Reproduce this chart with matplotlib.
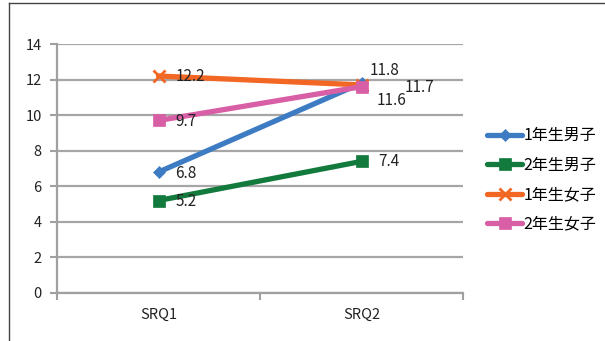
import matplotlib.pyplot as plt
from matplotlib.lines import Line2D

plt.rcParams['font.family'] = ['Noto Sans CJK JP', 'DejaVu Sans']

# Data
categories = ["SRQ1", "SRQ2"]
series_names = ["1年生男子", "2年生男子", "1年生女子", "2年生女子"]
boys_1 = [6.8, 11.8]
boys_2 = [5.2, 7.4]
girls_1 = [12.2, 11.7]
girls_2 = [9.7, 11.6]

colors = ["#3D7BC3", "#137A3D", "#F26724", "#D85EA5"]
markers = ["D", "s", "x", "s"]
msizes = [6, 8.5, 8, 8.5]
# label offsets (points) for each series at SRQ1 / SRQ2
offsets = [
    [(12, -1), (6, 9)],
    [(12, -1), (12, 0)],
    [(12, 0), (31, -2)],
    [(12, -1), (11, -10)],
]

fig = plt.figure(figsize=(6.05, 3.41), dpi=100)
ax = fig.add_axes([57 / 605, 1 - 293 / 341, 406 / 605, 249 / 341])

x = list(range(len(categories)))
all_series = [boys_1, boys_2, girls_1, girls_2]
for vals, name, c, m, ms, offs in zip(all_series, series_names, colors, markers, msizes, offsets):
    ax.plot(x, vals, color=c, lw=3.8, marker=m, markersize=ms,
            markeredgewidth=2 if m == "x" else 0.5, markeredgecolor=c,
            label=name, solid_capstyle="round", zorder=3)
    for xi, v, off in zip(x, vals, offs):
        ax.annotate(f"{v:.1f}", (xi, v), xytext=off, textcoords="offset points",
                    ha="left", va="center", fontsize=11, color="#222222", zorder=4)

ax.set_xlim(-0.5, 1.5)
ax.set_ylim(0, 14)
ax.set_yticks(range(0, 15, 2))
ax.set_xticks(x)
ax.set_xticklabels(categories)
ax.set_xticks([-0.5, 0.5, 1.5], minor=True)
ax.tick_params(axis="x", which="major", length=0, pad=11, labelsize=10.5, labelcolor="#222222")
ax.tick_params(axis="x", which="minor", length=5, width=1.5, color="#A0A0A0")
ax.tick_params(axis="y", length=5, width=1.5, color="#A0A0A0", pad=6,
               labelsize=10.5, labelcolor="#222222")

ax.grid(axis="y", color="#A6A6A6", lw=1.6, zorder=0)
for s in ["top", "right"]:
    ax.spines[s].set_visible(False)
for s in ["left", "bottom"]:
    ax.spines[s].set_color("#A0A0A0")
    ax.spines[s].set_linewidth(1.6)

leg = fig.legend(loc="center left", bbox_to_anchor=(487 / 605, 1 - 180 / 341),
                 frameon=False, fontsize=11.5, handlelength=2.2, handletextpad=0.1,
                 labelspacing=0.78, borderpad=0, borderaxespad=0, numpoints=1)

# outer chart border
fig.add_artist(Line2D([9 / 605, 9 / 605], [0, 1 - 3 / 341], color="#444444", lw=1))
fig.add_artist(Line2D([9 / 605, 1], [1 - 3 / 341, 1 - 3 / 341], color="#444444", lw=1))

fig.savefig("out.png", dpi=100)
